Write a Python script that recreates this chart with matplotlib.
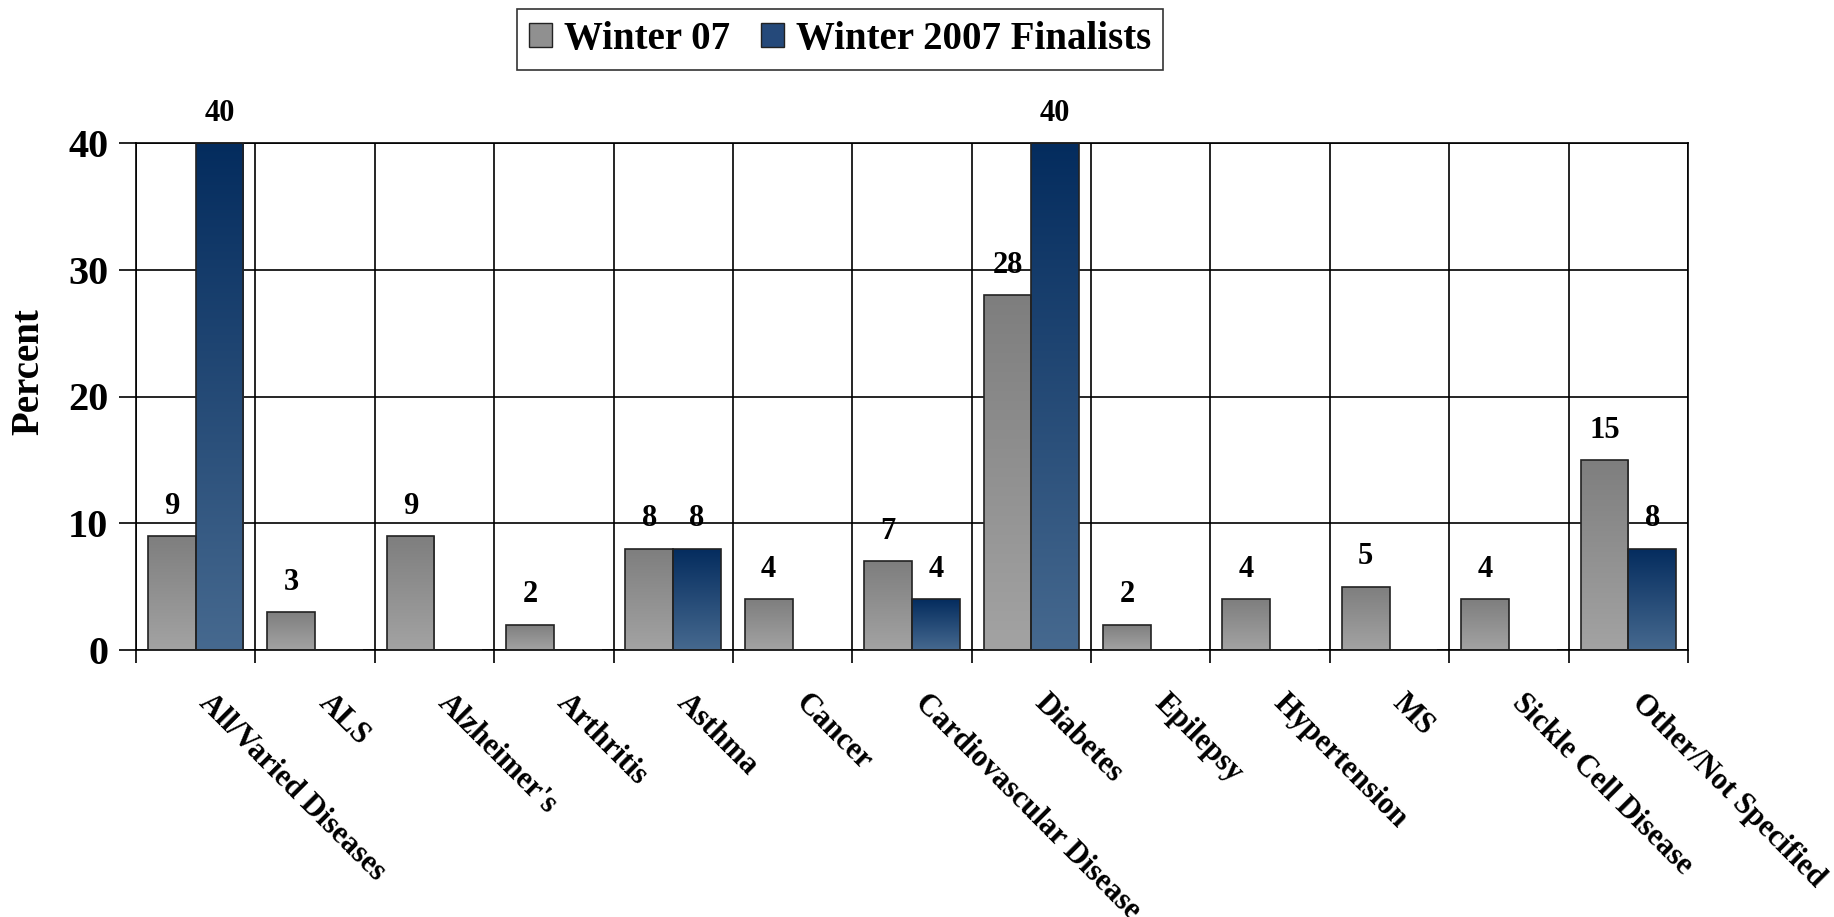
import numpy as np
import matplotlib.pyplot as plt
import matplotlib.transforms as mtransforms
from matplotlib.colors import LinearSegmentedColormap
from matplotlib.patches import Rectangle

plt.rcParams['font.family'] = ['Liberation Serif', 'DejaVu Serif']
plt.rcParams['font.weight'] = 'bold'

# datos
categorias = ["All/Varied Diseases", "ALS", "Alzheimer's", "Arthritis", "Asthma",
              "Cancer", "Cardiovascular Disease", "Diabetes", "Epilepsy",
              "Hypertension", "MS", "Sickle Cell Disease", "Other/Not Specified"]
winter07 = [9, 3, 9, 2, 8, 4, 7, 28, 2, 4, 5, 4, 15]
finalistas = [40, 0, 0, 0, 8, 0, 4, 40, 0, 0, 0, 0, 8]
series_nombres = ["Winter 07", "Winter 2007 Finalists"]

gris = LinearSegmentedColormap.from_list("gris", ["#a3a3a3", "#7e7e7e"])
azul = LinearSegmentedColormap.from_list("azul", ["#46698f", "#042c5e"])

fig = plt.figure(figsize=(18.34, 9.17), dpi=100)
ax = fig.add_axes([136/1834, 1 - 650/917, (1688-136)/1834, (650-143)/917])

x = np.arange(len(categorias))
ancho = 0.4
grad = np.linspace(0, 1, 256).reshape(-1, 1)

def barras(valores, offset, cmap):
    rects = ax.bar(x + offset, valores, ancho, align='edge', facecolor='none',
                   edgecolor='#222222', linewidth=1.2, zorder=3)
    for r, v in zip(rects, valores):
        if v <= 0:
            continue
        im = ax.imshow(grad, cmap=cmap, aspect='auto', origin='lower',
                       extent=[r.get_x(), r.get_x() + r.get_width(), 0, v], zorder=2)
        im.set_clip_path(r)
        ax.annotate(str(v), (r.get_x() + r.get_width() / 2, v), xytext=(0, 11),
                    textcoords='offset points', ha='center', va='bottom',
                    fontsize=22, fontweight='bold', annotation_clip=False)
    return rects

barras(winter07, -0.4, gris)
barras(finalistas, 0.0, azul)

ax.set_xlim(-0.5, len(categorias) - 0.5)
ax.set_ylim(0, 40)
ax.set_yticks([0, 10, 20, 30, 40])
ax.tick_params(axis='y', labelsize=29, length=12, width=1.2, pad=8)
ax.yaxis.grid(True, color='black', linewidth=1.2, zorder=1)

ax.set_xticks(np.arange(len(categorias) + 1) - 0.5, minor=True)
ax.set_xticks([])
ax.tick_params(axis='x', which='minor', length=9, width=1.2)
ax.xaxis.grid(True, which='minor', color='black', linewidth=1.2, zorder=1)
ax.set_axisbelow(True)

for s in ax.spines.values():
    s.set_linewidth(1.2)

trans = mtransforms.blended_transform_factory(ax.transData, ax.transAxes)
for i, c in enumerate(categorias):
    ax.text(i + 0.15, -0.075, c, transform=trans, rotation=-45, rotation_mode='anchor',
            ha='left', va='top', fontsize=22, fontweight='bold')

ax.set_ylabel("Percent", fontsize=28, fontweight='bold')
ax.yaxis.set_label_coords(-0.057, 0.55)

handles = [Rectangle((0, 0), 1, 1, facecolor='#909090', edgecolor='#222222'),
           Rectangle((0, 0), 1, 1, facecolor='#25497a', edgecolor='#222222')]
leg = fig.legend(handles, series_nombres, loc='upper center', bbox_to_anchor=(0.458, 0.99),
                 ncol=2, frameon=True, fancybox=False, handlelength=0.6,
                 handleheight=0.6, handletextpad=0.3, columnspacing=0.8,
                 borderpad=0.3, borderaxespad=0.0, prop={'weight': 'bold', 'size': 28})
leg.get_frame().set_edgecolor('black')
leg.get_frame().set_linewidth(1.2)

fig.savefig("out.png", dpi=100)
